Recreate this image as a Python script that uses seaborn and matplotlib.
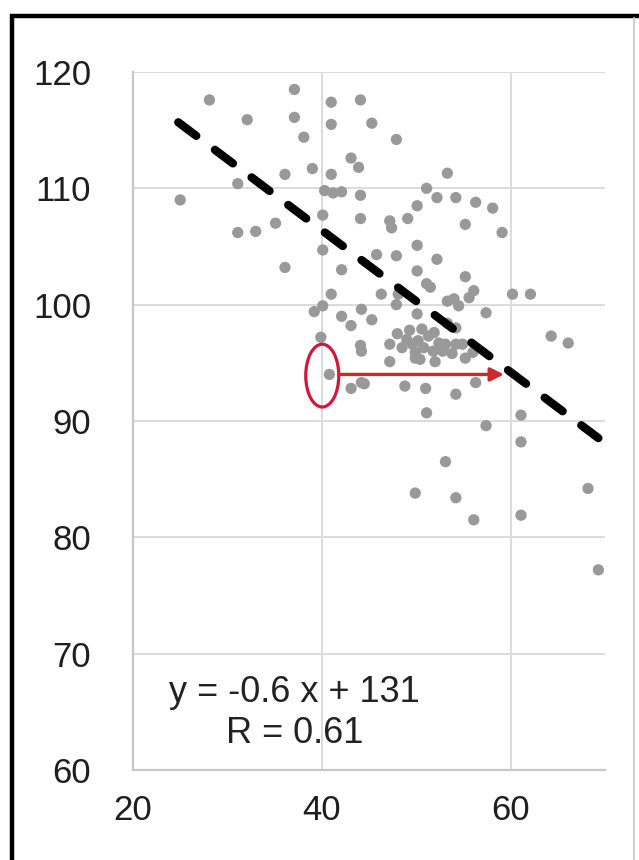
import numpy as np
import pandas as pd
import seaborn as sns
import matplotlib.pyplot as plt
from matplotlib.patches import Ellipse, Rectangle
from matplotlib.lines import Line2D

# scatter points
x_vals = [25.0, 28.1, 32.1, 37.1, 41.0, 44.1, 37.1, 41.0, 45.3, 38.1, 47.9,
          43.1, 43.9, 39.0, 41.0, 36.1, 31.1, 40.3, 41.2, 42.1, 44.1, 40.1,
          44.1, 35.1, 33.0, 31.1, 40.1, 36.1, 42.1, 45.8,
          53.3, 51.1, 52.2, 54.2, 56.3, 58.1, 50.1, 47.2, 47.4, 49.1, 55.2,
          59.1, 50.1, 47.9, 52.2, 50.1, 55.2, 51.1, 51.5, 56.1, 60.2, 62.1,
          54.0, 48.1, 55.6, 53.3, 54.5, 47.9, 57.4,
          41.0, 39.2, 40.1, 42.1, 44.2, 45.3, 43.1, 46.3, 50.1, 39.9, 44.2,
          44.1, 47.2, 49.0, 49.6, 50.2, 50.8, 51.3, 49.9, 51.8, 48.5, 52.4,
          54.2, 53.1, 53.8, 54.9, 47.2, 49.9, 52.0, 55.2, 56.0, 53.3, 54.2,
          44.5, 40.8, 44.2, 43.1, 48.8, 51.0, 54.2, 56.3, 64.3, 66.1,
          49.3, 50.6, 51.9, 52.8, 50.4, 48.0,
          51.1, 61.1, 57.4, 61.1, 53.1, 49.9, 54.2, 56.1, 61.1, 68.2, 69.3]
y_vals = [109.0, 117.6, 115.9, 118.5, 117.4, 117.6, 116.1, 115.5, 115.6, 114.4, 114.2,
          112.6, 111.8, 111.7, 111.2, 111.2, 110.4, 109.8, 109.6, 109.7, 109.4, 107.7,
          107.4, 107.0, 106.3, 106.2, 104.7, 103.2, 103.0, 104.3,
          111.3, 110.0, 109.2, 109.2, 108.8, 108.3, 108.5, 107.2, 106.6, 107.4, 106.9,
          106.2, 105.1, 104.2, 103.9, 102.9, 102.4, 101.8, 101.5, 101.2, 100.9, 100.9,
          100.5, 100.9, 100.6, 100.3, 99.9, 100.0, 99.3,
          100.9, 99.4, 99.9, 99.0, 99.6, 98.7, 98.2, 100.9, 99.2, 97.2, 96.0,
          96.5, 96.6, 97.0, 96.6, 96.9, 96.3, 97.3, 95.9, 96.0, 96.3, 96.7,
          96.6, 96.6, 95.8, 96.6, 95.1, 95.4, 95.1, 95.4, 95.9, 98.4, 98.0,
          93.2, 94.0, 93.3, 92.8, 93.0, 92.8, 92.3, 93.3, 97.3, 96.7,
          97.8, 97.9, 97.6, 96.0, 95.3, 97.5,
          90.7, 90.5, 89.6, 88.2, 86.5, 83.8, 83.4, 81.5, 81.9, 84.2, 77.2]

# trend line as drawn
line_x = [24.8, 69.3]
line_slope = -0.61
line_intercept = 130.8

eq_lines = ["y = -0.6 x + 131", "R = 0.61"]
x_ticks = [20, 40, 60]
y_ticks = [60, 70, 80, 90, 100, 110, 120]

df = pd.DataFrame({"x": x_vals, "y": y_vals})

sns.set_style("white")
plt.rcParams["font.family"] = ["Liberation Sans", "DejaVu Sans"]

fig = plt.figure(figsize=(6.39, 8.6), dpi=100)
ax = fig.add_axes([0.2081, 0.1047, 0.7387, 0.8116])

sns.scatterplot(data=df, x="x", y="y", ax=ax, color="#999999", s=66,
                edgecolor="none", zorder=3)

lx = np.array(line_x)
ax.plot(lx, line_slope * lx + line_intercept, color="black", lw=6.0,
        dashes=(2.7, 2.8), dash_capstyle="round", zorder=4)

# red ellipse and arrow
ax.add_patch(Ellipse((40.05, 93.9), 3.5, 5.4, fill=False,
                     edgecolor="#d0183c", lw=2.3, zorder=5))
ax.annotate("", xy=(59.3, 94.0), xytext=(41.8, 94.0),
            arrowprops=dict(arrowstyle="-|>", color="#cc2a2a", lw=2.4,
                            mutation_scale=20, shrinkA=0, shrinkB=0), zorder=5)

ax.text(37.1, 65.8, eq_lines[0], ha="center", va="baseline",
        fontsize=26, color="#222222")
ax.text(37.1, 62.3, eq_lines[1], ha="center", va="baseline",
        fontsize=26, color="#222222")

ax.set_xlim(20, 70)
ax.set_ylim(60, 120)
ax.set_xticks(x_ticks)
ax.set_yticks(y_ticks)
ax.set_xlabel("")
ax.set_ylabel("")
ax.grid(True, color="#dcdcdc", lw=1.4)
ax.set_axisbelow(True)
ax.tick_params(axis="both", length=0, labelsize=25, labelcolor="#1e1e1e")
ax.tick_params(axis="y", pad=30)
ax.tick_params(axis="x", pad=17)
for side in ["top", "right"]:
    ax.spines[side].set_visible(False)
for side in ["left", "bottom"]:
    ax.spines[side].set_color("#c8c8c8")
    ax.spines[side].set_linewidth(1.6)

# outer frame of the cropped figure
fig.patches.append(Rectangle((12 / 639, -0.1), 1.2, 1.1 - 16 / 860,
                             transform=fig.transFigure, fill=False,
                             edgecolor="black", lw=3.2))
fig.lines.append(Line2D([634 / 639, 634 / 639], [0, 1 - 18 / 860],
                        transform=fig.transFigure, color="#cfcfcf", lw=1.5))

fig.savefig("out.png", dpi=100)
